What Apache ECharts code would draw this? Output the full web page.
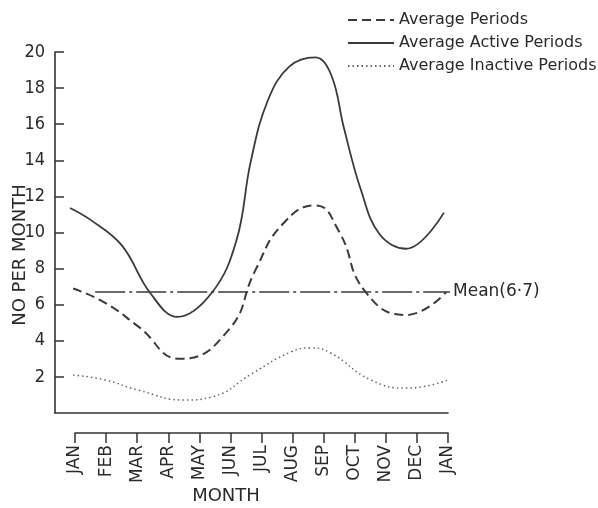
<!DOCTYPE html>
<html>
<head>
<meta charset="utf-8">
<script src="https://cdn.jsdelivr.net/npm/echarts@6/dist/echarts.min.js"></script>
<style>
html,body{margin:0;padding:0;background:#fff;}
#chart{width:598px;height:508px;}
</style>
</head>
<body>
<div id="chart"></div>
<script>
// ---- data (x = months after January, y = number per month) ----
const monthLabels = ['JAN','FEB','MAR','APR','MAY','JUN','JUL','AUG','SEP','OCT','NOV','DEC','JAN'];
const seriesNames = ['Average Periods','Average Active Periods','Average Inactive Periods'];

const averagePeriods = [
  [-0.06, 6.9], [0.97, 6.1], [2.03, 4.8], [3.39, 3.0],
  [4.94, 4.6], [5.8, 7.9], [6.7, 10.5],
  [7.74, 11.5], [8.48, 10.1], [9.35, 6.7],
  [10.65, 5.43], [11.94, 6.7]
];
const averageActivePeriods = [
  [-0.16, 11.36], [0.5, 10.7], [1.5, 9.3], [2.42, 6.65], [3.29, 5.32], [4.42, 6.7],
  [5.2, 9.6], [5.65, 13.9], [6.2, 17.3], [6.9, 19.2], [7.74, 19.7],
  [8.25, 18.7], [8.65, 15.8], [9.2, 12.35], [9.8, 9.9], [10.65, 9.1],
  [11.87, 11.1]
];
const averageInactivePeriods = [
  [-0.06, 2.1], [0.97, 1.83], [2.03, 1.27], [3.55, 0.72], [4.42, 0.9],
  [5.71, 2.2], [6.94, 3.38], [7.58, 3.6], [8.23, 3.32],
  [9.52, 1.83], [10.7, 1.38], [12.0, 1.83]
];
const meanValue = 6.7;
const meanLabel = 'Mean(6·7)';
const meanSpan = [0.65, 12.3];

const yMin = 0, yMax = 20, yInterval = 2;
const xMin = -0.6435, xMax = 12;

// ---- chart ----
const ink = '#333';
const font = "'DejaVu Sans', sans-serif";
const fontC = "'DejaVu Sans Condensed', 'DejaVu Sans', sans-serif";
const chart = echarts.init(document.getElementById('chart'), null, {renderer: 'canvas'});

chart.setOption({
  backgroundColor: '#fff',
  animation: false,
  legend: {
    orient: 'vertical',
    left: 347, top: 9,
    padding: 0,
    itemWidth: 46, itemHeight: 14, itemGap: 1,
    data: seriesNames,
    itemStyle: {opacity: 0},
    textStyle: {fontFamily: font, fontSize: 16, color: '#2a2a2a', lineHeight: 22}
  },
  grid: [
    {left: 55, right: 150, top: 52, bottom: 95},
    {left: 75, right: 150, top: 420, bottom: 75}
  ],
  xAxis: [
    {
      type: 'value', gridIndex: 0, min: xMin, max: xMax,
      axisLine: {show: true, onZero: false, lineStyle: {color: ink, width: 1.6}},
      axisTick: {show: false}, axisLabel: {show: false}, splitLine: {show: false}
    },
    {
      type: 'value', gridIndex: 1, min: 0, max: 12, interval: 1,
      position: 'bottom',
      axisLine: {show: true, onZero: false, lineStyle: {color: ink, width: 1.5}},
      axisTick: {show: true, inside: false, length: 10, lineStyle: {color: ink, width: 1.5}},
      axisLabel: {
        show: true, rotate: 90, margin: 12,
        formatter: v => monthLabels[Math.round(v)] || '',
        fontFamily: font, fontSize: 17, color: '#2a2a2a',
        showMinLabel: true, showMaxLabel: true
      },
      splitLine: {show: false}
    }
  ],
  yAxis: [
    {
      type: 'value', gridIndex: 0, min: yMin, max: yMax, interval: yInterval,
      axisLine: {show: true, onZero: false, lineStyle: {color: ink, width: 1.6}},
      axisTick: {show: true, inside: true, length: 9, lineStyle: {color: ink, width: 1.5}},
      axisLabel: {
        showMinLabel: false, margin: 10,
        fontFamily: fontC, fontSize: 18, color: '#2a2a2a'
      },
      splitLine: {show: false}
    },
    {
      type: 'value', gridIndex: 1, min: 0, max: 1, show: false
    }
  ],
  graphic: [
    {
      type: 'text', x: 20, y: 255, rotation: Math.PI / 2,
      style: {text: 'NO PER MONTH', fontFamily: font, fontSize: 18, fill: '#2a2a2a',
              align: 'center', verticalAlign: 'middle'}
    },
    {
      type: 'text', x: 226, y: 496,
      style: {text: 'MONTH', fontFamily: font, fontSize: 18, fill: '#2a2a2a',
              align: 'center', verticalAlign: 'middle'}
    }
  ],
  series: [
    {
      name: seriesNames[0], type: 'line', xAxisIndex: 0, yAxisIndex: 0,
      data: averagePeriods, symbol: 'none', smooth: 0.5,
      lineStyle: {color: '#3a3a3a', width: 2, type: [9, 5]},
      itemStyle: {color: '#3a3a3a'}
    },
    {
      name: seriesNames[1], type: 'line', xAxisIndex: 0, yAxisIndex: 0,
      data: averageActivePeriods, symbol: 'none', smooth: 0.4,
      lineStyle: {color: '#3a3a3a', width: 1.8, type: 'solid'},
      itemStyle: {color: '#3a3a3a'}
    },
    {
      name: seriesNames[2], type: 'line', xAxisIndex: 0, yAxisIndex: 0,
      data: averageInactivePeriods, symbol: 'none', smooth: 0.5,
      lineStyle: {color: '#666', width: 1.5, type: [1.5, 3]},
      itemStyle: {color: '#666'}
    },
    {
      name: 'Mean', type: 'line', xAxisIndex: 0, yAxisIndex: 0, clip: false,
      data: [[meanSpan[0], meanValue], [meanSpan[1], meanValue]],
      symbol: 'none', silent: true,
      lineStyle: {color: '#3a3a3a', width: 1.6, type: [30, 4, 3, 4]},
      endLabel: {
        show: true, formatter: meanLabel, distance: 3,
        fontFamily: font, fontSize: 17, color: '#2a2a2a'
      }
    }
  ]
});
</script>
</body>
</html>
